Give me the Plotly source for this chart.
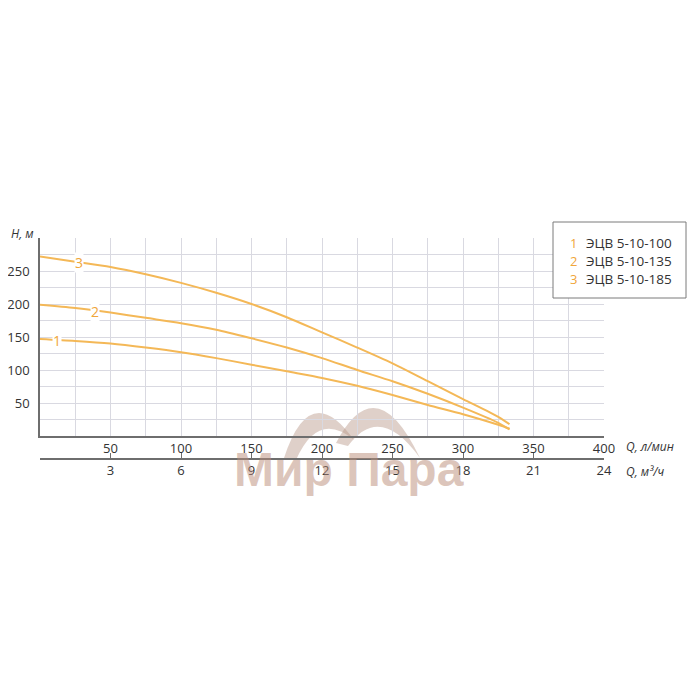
import plotly.graph_objects as go

# Data
q_lmin = [0, 25, 50, 75, 100, 125, 150, 175, 200, 225, 250, 275, 300, 325, 333]
h_100 = [147, 144, 140, 134, 127, 118, 108, 98, 88, 76, 62, 47, 33, 17, 11]
h_135 = [199, 194, 187, 179, 171, 161, 148, 134, 118, 100, 83, 64, 43, 20, 10]
h_185 = [272, 264, 256, 245, 232, 217, 200, 180, 157, 134, 110, 83, 56, 29, 18]

series_names = ["ЭЦВ 5-10-100", "ЭЦВ 5-10-135", "ЭЦВ 5-10-185"]
series_nums = ["1", "2", "3"]
label_q = [12, 39, 28]
label_h = [145, 188, 263]

x1_ticks = [50, 100, 150, 200, 250, 300, 350, 400]
x2_ticks = [0, 3, 6, 9, 12, 15, 18, 21, 24]
x2_labels = ["", "3", "6", "9", "12", "15", "18", "21", "24"]
y_ticks = [50, 100, 150, 200, 250]

LINE = "#F4B857"
NUM = "#F0A63A"
GRID = "#D9D9E1"
AXIS = "#6E6E6E"
TXT = "#333333"
FONT = "Open Sans"

W, H = 700, 700
# the page has an 8px body margin, so the figure is laid out 8px up/left
L, R, T, B = 32, 104, 230, 249
PW = W - L - R
PH = H - T - B


def px(x, y):
    """target-picture pixel -> paper coordinates"""
    return (x - 40) / PW, (459 - y) / PH


fig = go.Figure()
for hs in [h_100, h_135, h_185]:
    fig.add_trace(go.Scatter(x=q_lmin, y=hs, mode="lines",
                             line=dict(color=LINE, width=2, shape="spline", smoothing=0.8),
                             hoverinfo="skip", showlegend=False))

# invisible trace for the secondary (m3/h) axis
fig.add_trace(go.Scatter(x=[0, 24], y=[None, None], xaxis="x2", yaxis="y",
                         mode="lines", showlegend=False, hoverinfo="skip"))

annotations = []

# watermark text (drawn first so other annotations sit on top)
wx, wy = px(349, 469)
annotations.append(dict(x=wx, y=wy, xref="paper", yref="paper", text="<b>Мир Пара</b>",
                        showarrow=False, xanchor="center", yanchor="middle",
                        font=dict(family="Liberation Sans", size=48, color="rgba(185,140,120,0.5)")))

for n, qx, hy in zip(series_nums, label_q, label_h):
    annotations.append(dict(x=qx, y=hy, xref="x", yref="y", text=n, showarrow=False,
                            font=dict(family=FONT, size=14, color=NUM),
                            bgcolor="white", borderpad=0))

# legend box text
for i, (n, name) in enumerate(zip(series_nums, series_names)):
    yy = 243 + i * 18
    xn, yn = px(573, yy)
    annotations.append(dict(x=xn, y=yn, xref="paper", yref="paper", text=n, showarrow=False,
                            xanchor="center", yanchor="middle",
                            font=dict(family=FONT, size=13, color=NUM)))
    xt, _ = px(584, yy)
    annotations.append(dict(x=xt, y=yn, xref="paper", yref="paper", text=name, showarrow=False,
                            xanchor="left", yanchor="middle",
                            font=dict(family=FONT, size=13.5, color=TXT)))

# axis titles
ax, ay = px(9, 233)
annotations.append(dict(x=ax, y=ay, xref="paper", yref="paper", text="<i>H, м</i>",
                        showarrow=False, xanchor="left", yanchor="middle",
                        font=dict(family=FONT, size=12, color=TXT)))
qx1, qy1 = px(624, 446)
annotations.append(dict(x=qx1, y=qy1, xref="paper", yref="paper", text="<i>Q, л/мин</i>",
                        showarrow=False, xanchor="left", yanchor="middle",
                        font=dict(family=FONT, size=12, color=TXT)))
qx2, qy2 = px(624, 471)
annotations.append(dict(x=qx2, y=qy2, xref="paper", yref="paper", text="<i>Q, м³/ч</i>",
                        showarrow=False, xanchor="left", yanchor="middle",
                        font=dict(family=FONT, size=12, color=TXT)))

shapes = []
# legend frame
x0, y0 = px(553, 222)
x1, y1 = px(686, 298)
shapes.append(dict(type="rect", xref="paper", yref="paper", x0=x0, y0=y0, x1=x1, y1=y1,
                   line=dict(color="#7A7A7A", width=1), fillcolor="white", layer="above"))


def crescent(p0, c_out, p1, c_in, p2):
    pts = [px(*p) for p in (p0, c_out, p1, c_in, p2)]
    (a, b), (c, d), (e, f), (g, h), (i, j) = pts
    return f"M {a},{b} Q {c},{d} {e},{f} Q {g},{h} {i},{j} Z"


shapes.append(dict(type="path", xref="paper", yref="paper",
                   path=crescent((284, 458), (310, 378), (354, 440), (318, 410), (296, 460)),
                   fillcolor="rgba(185,150,135,0.45)", line=dict(width=0), layer="below"))
shapes.append(dict(type="path", xref="paper", yref="paper",
                   path=crescent((336, 443), (376, 366), (420, 458), (380, 402), (348, 446)),
                   fillcolor="rgba(185,150,135,0.45)", line=dict(width=0), layer="below"))

y_dom0 = (459 - 436) / PH

fig.update_layout(
    width=W, height=H,
    margin=dict(l=L, r=R, t=T, b=B),
    paper_bgcolor="white", plot_bgcolor="rgba(0,0,0,0)",
    font=dict(family=FONT, size=13, color=TXT),
    xaxis=dict(range=[0, 400], tickvals=x1_ticks, ticks="", showgrid=True, gridcolor=GRID,
               gridwidth=1, minor=dict(dtick=25, showgrid=True, gridcolor=GRID, gridwidth=1),
               showline=True, linecolor=AXIS, linewidth=1.5, zeroline=False,
               anchor="y", tickfont=dict(size=13, color=TXT), fixedrange=True,
               automargin=False),
    xaxis2=dict(range=[0, 24], tickvals=x2_ticks, ticktext=x2_labels, ticks="inside",
                ticklen=5, tickcolor=AXIS, tickwidth=1, showgrid=False, showline=True,
                linecolor=AXIS, linewidth=1.5, zeroline=False, overlaying="x",
                anchor="free", position=0, side="bottom",
                tickfont=dict(size=13, color=TXT), automargin=False),
    yaxis=dict(range=[0, 300], domain=[y_dom0, 1], tickvals=y_ticks, ticks="",
               showgrid=True, gridcolor=GRID, gridwidth=1,
               minor=dict(dtick=25, showgrid=True, gridcolor=GRID, gridwidth=1),
               showline=True, linecolor=AXIS, linewidth=1.5, zeroline=False,
               tickfont=dict(size=13, color=TXT), fixedrange=True, automargin=False,
               ticklabelstandoff=6),
    annotations=annotations,
    shapes=shapes,
    showlegend=False,
)

fig.write_html("out.html")
